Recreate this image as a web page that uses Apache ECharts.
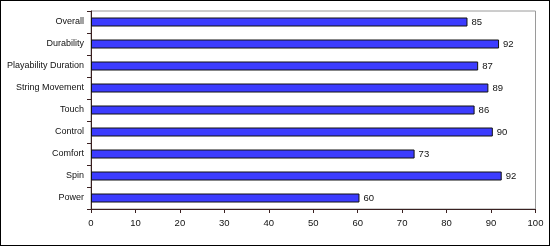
<!DOCTYPE html>
<html><head><meta charset="utf-8">
<script src="https://cdn.jsdelivr.net/npm/echarts@6/dist/echarts.min.js"></script>
<style>
html,body{margin:0;padding:0;background:#fff;}
#c{width:548px;height:244px;border:1px solid #000;}
</style></head>
<body><div id="c"></div>
<script>
var categories = ["Power","Spin","Comfort","Control","Touch","String Movement","Playability Duration","Durability","Overall"];
var values = [60.4, 92.4, 72.8, 90.4, 86.3, 89.4, 87.1, 91.8, 84.7];
var labels = [60, 92, 73, 90, 86, 89, 87, 92, 85];
var xTicks = [0,10,20,30,40,50,60,70,80,90,100];

var chart = echarts.init(document.getElementById('c'), null, {renderer:'canvas'});
var font = 'Liberation Sans';
chart.setOption({
  animation:false,
  grid:{left:90, top:10, width:444.5, height:198, show:true, borderColor:'#9a9a9a', borderWidth:1, backgroundColor:'#fff', containLabel:false, outerBoundsMode:'none'},
  xAxis:{type:'value', min:0, max:100, interval:10,
    axisLine:{show:true, onZero:false, lineStyle:{color:'#3a2020', width:1}},
    axisTick:{show:true, length:4, lineStyle:{color:'#3a2020'}},
    axisLabel:{color:'#111', fontFamily:font, fontSize:9.5, margin:9,
      formatter:function(v){return xTicks.indexOf(v)>=0 ? String(v) : '';}},
    splitLine:{show:false}},
  yAxis:{type:'category', data:categories,
    axisLine:{show:true, lineStyle:{color:'#3a2020', width:1}},
    axisTick:{show:true, length:4, lineStyle:{color:'#3a2020'}},
    axisLabel:{color:'#111', fontFamily:font, fontSize:9, margin:7}},
  series:[{type:'bar', data:values, barWidth:9,
    itemStyle:{color:'#3c3cff', borderColor:'#111', borderWidth:1},
    label:{show:true, position:'right', distance:4, color:'#111', fontFamily:font, fontSize:9.5,
      formatter:function(p){return String(labels[p.dataIndex]);}}
  }]
});
</script></body></html>
